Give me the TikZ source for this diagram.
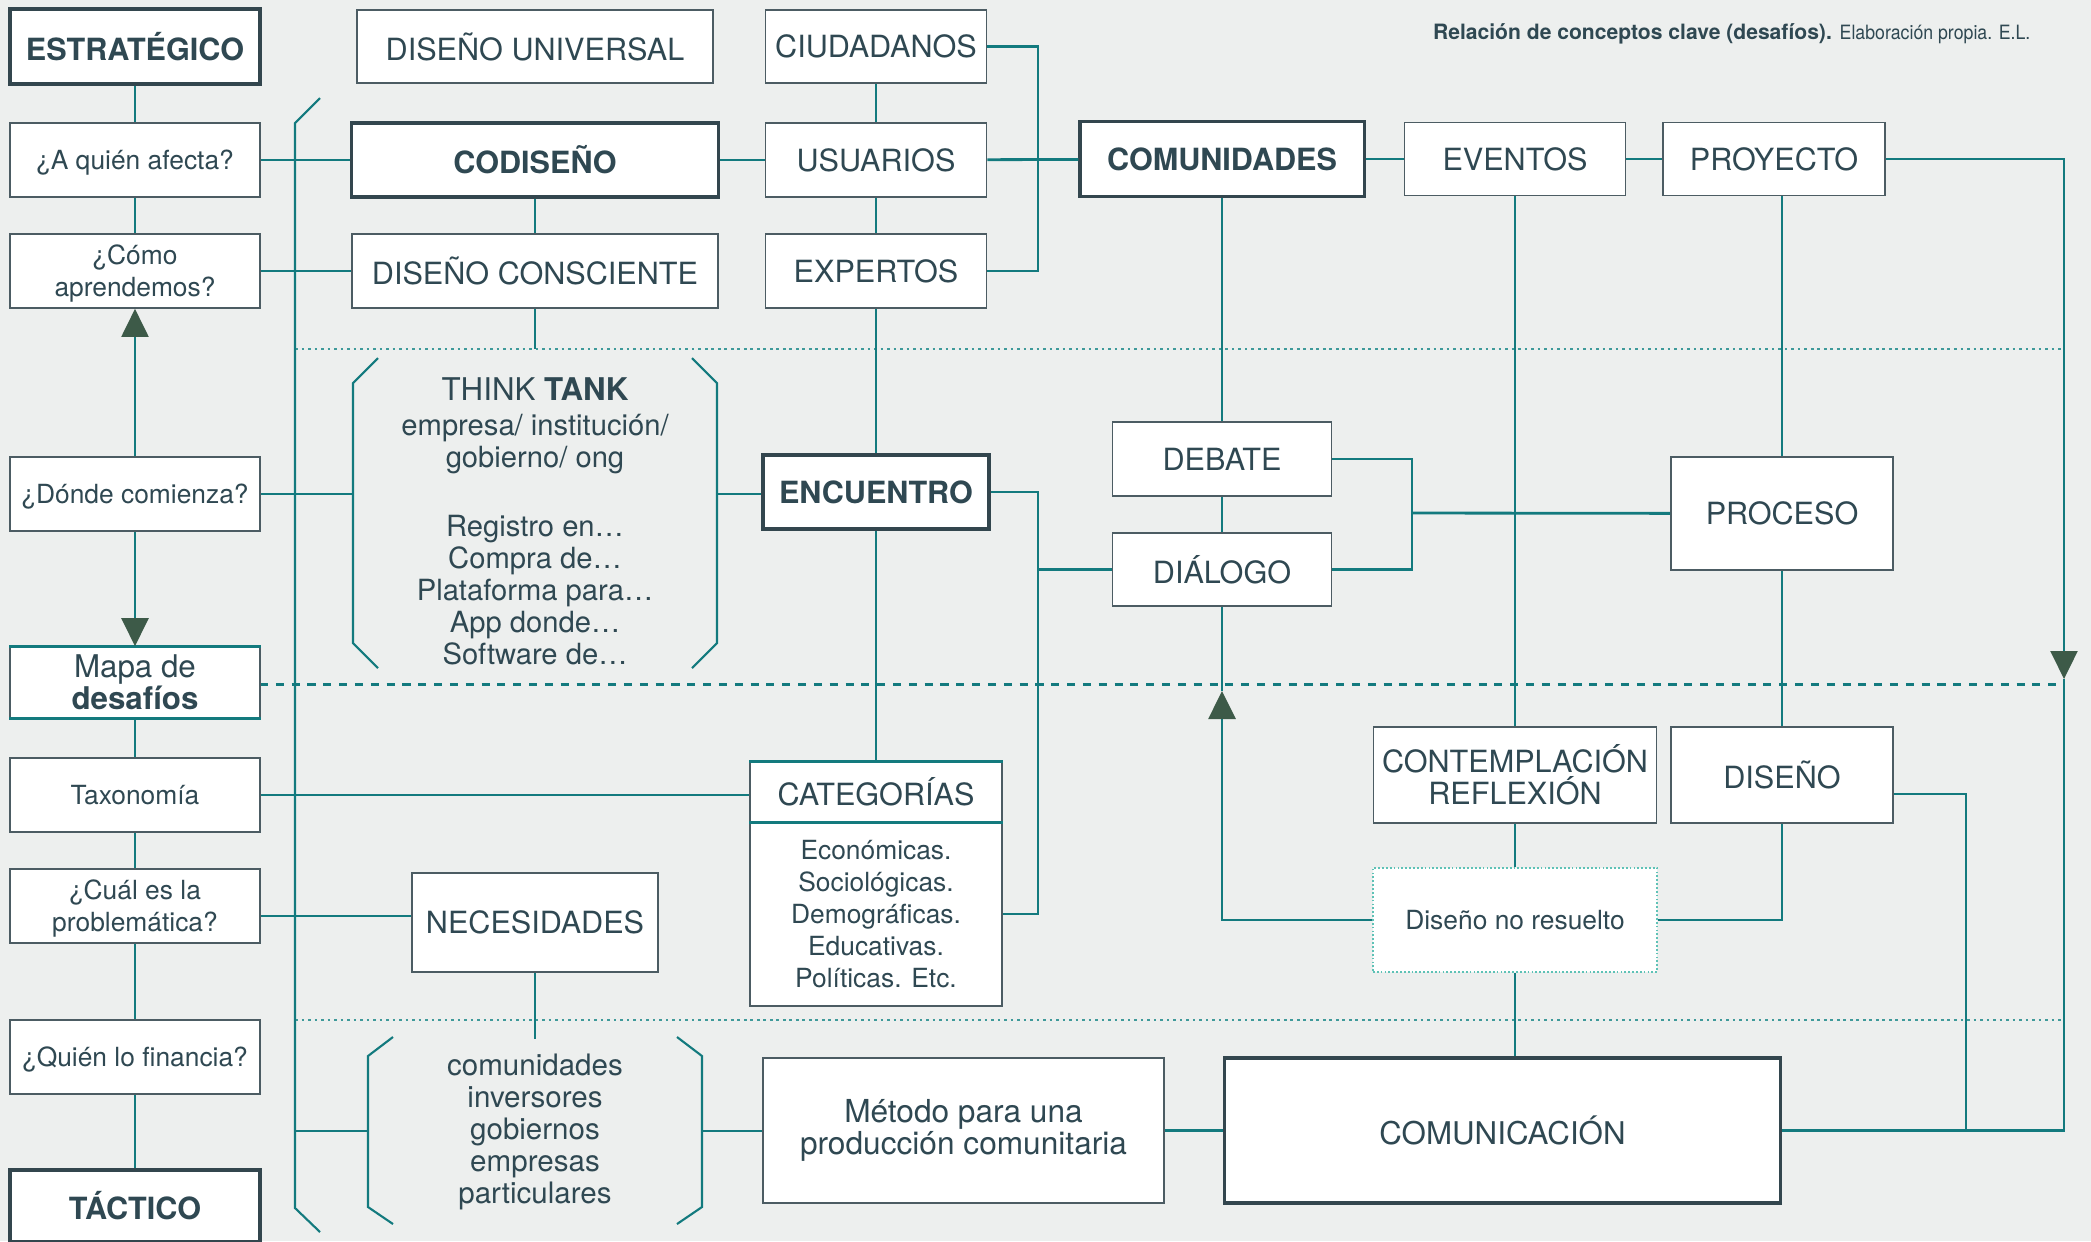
\documentclass[tikz,border=0pt]{standalone}
\usepackage{fontspec}
\setmainfont{TeX Gyre Heros}
\newfontfamily\condfont[FakeStretch=0.9]{TeX Gyre Heros}
\usepackage{xcolor}
\usepackage{tikz}
\usetikzlibrary{arrows.meta,calc}
\definecolor{paper}{HTML}{EDEFEE}
\definecolor{ink}{HTML}{2F4852}
\definecolor{boxline}{HTML}{4C5C63}
\definecolor{boxdark}{HTML}{33464E}
\definecolor{lineteal}{HTML}{137A7E}
\definecolor{dotteal}{HTML}{3F9A9A}
\definecolor{lightteal}{HTML}{5EC2B6}
\definecolor{arrowgreen}{HTML}{3D5A48}
\tikzset{
  blk/.style={draw=boxline,line width=0.45pt,fill=white,align=center,inner sep=0pt,text=ink,font=\fontsize{8.7}{9.1}\selectfont},
  blkb/.style={blk,draw=boxdark,line width=0.9pt,font=\fontsize{8.7}{9.1}\selectfont\bfseries},
  lcol/.style={blk,minimum width=2.5cm,minimum height=0.74cm,font=\fontsize{7.5}{9.1}\selectfont},
  qone/.style={lcol,text height=5.4pt,text depth=0pt},
  txt/.style={text=ink,align=center,inner sep=0pt},
  link/.style={draw=lineteal,line width=0.6pt},
  hlink/.style={draw=lineteal,line width=0.8pt},
  band/.style={draw=lineteal,line width=0.9pt},
  brack/.style={draw=lineteal,line width=0.6pt},
  arr/.style={-{Triangle[length=0.28cm,width=0.27cm,color=arrowgreen]}},
  sepline/.style={draw=dotteal,line width=0.7pt,dash pattern=on 0.75pt off 1.1pt},
  mapline/.style={draw=lineteal,line width=0.85pt,dash pattern=on 2.3pt off 2.2pt},
}
\newcommand{\qstrut}{\rule{0pt}{7.2pt}}
\begin{document}
\begin{tikzpicture}[x=0.01cm,y=-0.01cm]
\fill[paper] (0,0) rectangle (2091,1241);
\clip (0,0) rectangle (2091,1241);

% separators
\draw[sepline] (295,349) -- (2064,349);
\draw[sepline] (295,1020) -- (2064,1020);
\draw[mapline] (260,684) -- (2064,684);

% brackets and left spine
\draw[brack] (320,98) -- (295,123) -- (295,1208) -- (320,1232);
\draw[brack] (378,358) -- (353,383) -- (353,643) -- (378,668);
\draw[brack] (692,358) -- (717,383) -- (717,643) -- (692,668);
\draw[brack] (393,1037) -- (368,1056) -- (368,1207) -- (393,1224);
\draw[brack] (677,1037) -- (702,1056) -- (702,1207) -- (677,1224);
\coordinate (spine) at (295,0);
\coordinate (thL) at (353,494);
\coordinate (thR) at (717,494);
\coordinate (cmL) at (368,1131);
\coordinate (cmR) at (702,1131);
\coordinate (cmT) at (535,1039);
\coordinate (consE) at (535,349);
\coordinate (stk) at (1038,0);
\coordinate (jn) at (1412,513);
\coordinate (rj) at (1966,0);
\coordinate (rArr) at (2064,679);
\coordinate (dArr) at (1222,691);

% caption
\node[txt,anchor=base east] (cap) at (2031,39) {\fontsize{6}{7}\selectfont\bfseries Relación de conceptos clave (desafíos). {\condfont\mdseries\fontsize{5.6}{7}\selectfont Elaboración propia. E.L.}};

% left column
\node[blkb,minimum width=2.5cm,minimum height=0.75cm] (estr) at (135,46.5) {ESTRATÉGICO};
\node[qone] (aquien) at (135,160) {¿A quién afecta?};
\node[lcol] (como) at (135,271) {\qstrut¿Cómo\\aprendemos?};
\node[qone] (donde) at (135,494) {¿Dónde comienza?};
\node[blk,minimum width=2.5cm,minimum height=0.71cm,font=\fontsize{8.9}{9.1}\selectfont] (mapa) at (135,682.5) {Mapa de\\\textbf{desafíos}};
\draw[band] (mapa.north west) -- (mapa.north east);
\draw[band] (mapa.south west) -- (mapa.south east);
\node[lcol] (taxo) at (135,795) {Taxonomía};
\node[lcol] (cual) at (135,906) {\qstrut¿Cuál es la\\problemática?};
\node[qone] (quien) at (135,1057) {¿Quién lo financia?};
\node[blkb,minimum width=2.5cm,minimum height=0.72cm] (tact) at (135,1206) {TÁCTICO};

% middle
\node[blk,minimum width=3.56cm,minimum height=0.73cm] (univ) at (535,46.5) {DISEÑO UNIVERSAL};
\node[blkb,minimum width=3.66cm,minimum height=0.74cm] (codis) at (535,160) {CODISEÑO};
\node[blk,minimum width=3.66cm,minimum height=0.74cm] (consc) at (535,271) {DISEÑO CONSCIENTE};
\node[blk,minimum width=2.21cm,minimum height=0.73cm] (ciud) at (876,46.5) {CIUDADANOS};
\node[blk,minimum width=2.21cm,minimum height=0.74cm] (usua) at (876,160) {USUARIOS};
\node[blk,minimum width=2.21cm,minimum height=0.74cm] (expe) at (876,271) {EXPERTOS};
\node[blkb,minimum width=2.26cm,minimum height=0.74cm] (encu) at (876,492) {ENCUENTRO};
\node[txt,font=\fontsize{8.3}{9.1}\selectfont] (think) at (535,521) {{\fontsize{8.9}{9.1}\selectfont THINK \textbf{TANK}}\\[0.9pt]empresa/ institución/\\gobierno/ ong\\[10.5pt]Registro en…\\Compra de…\\Plataforma para…\\App donde…\\Software de…};
\node[blk,minimum width=2.52cm,minimum height=1.84cm,font=\fontsize{7.5}{9.05}\selectfont] (catlist) at (876,914) {Económicas.\\Sociológicas.\\Demográficas.\\Educativas.\\Políticas. Etc.};
\node[blk,minimum width=2.52cm,minimum height=0.6cm] (cathead) at (876,792) {CATEGORÍAS};
\draw[band] (cathead.north west) -- (cathead.north east);
\draw[band] (cathead.south west) -- (cathead.south east);
\node[blk,minimum width=2.46cm,minimum height=0.99cm] (nece) at (535,922.5) {NECESIDADES};
\node[txt,font=\fontsize{8.4}{9.1}\selectfont] (quienes) at (535,1132) {comunidades\\inversores\\gobiernos\\empresas\\particulares};
\node[blk,minimum width=4.01cm,minimum height=1.45cm,font=\fontsize{9}{9.2}\selectfont] (metodo) at (963.5,1130.5) {Método para una\\producción comunitaria};
\node[blkb,minimum width=5.55cm,minimum height=1.45cm,font=\fontsize{8.9}{9.1}\selectfont] (comunic) at (1502.5,1130.5) {COMUNICACIÓN};

% right
\node[blkb,minimum width=2.84cm,minimum height=0.75cm] (comun) at (1222,159) {COMUNIDADES};
\node[blk,minimum width=2.21cm,minimum height=0.73cm] (even) at (1515,159) {EVENTOS};
\node[blk,minimum width=2.22cm,minimum height=0.73cm] (proy) at (1774,159) {PROYECTO};
\node[blk,minimum width=2.19cm,minimum height=0.74cm] (debate) at (1222,459) {DEBATE};
\node[blk,minimum width=2.19cm,minimum height=0.73cm] (dialogo) at (1222,569.5) {DIÁLOGO};
\node[blk,minimum width=2.22cm,minimum height=1.13cm] (proc) at (1782,513.5) {PROCESO};
\node[blk,minimum width=2.83cm,minimum height=0.96cm] (contem) at (1515,775) {CONTEMPLACIÓN\\REFLEXIÓN};
\node[blk,minimum width=2.22cm,minimum height=0.96cm] (disen) at (1782,775) {DISEÑO};
\node[blk,draw=lightteal,line width=0.6pt,dash pattern=on 0.5pt off 0.6pt,minimum width=2.84cm,minimum height=1.04cm,font=\fontsize{7.5}{9}\selectfont] (noresu) at (1515,920) {Diseño no resuelto};

% left column links
\draw[link] (estr) -- (aquien);
\draw[link] (aquien) -- (como);
\draw[link,arr] (donde) -- (como);
\draw[link,arr] (donde) -- (mapa);
\draw[link] (mapa) -- (taxo);
\draw[link] (taxo) -- (cual);
\draw[link] (cual) -- (quien);
\draw[link] (quien) -- (tact);
\draw[hlink] (aquien) -- (codis);
\draw[hlink] (como) -- (consc);
\draw[hlink] (donde.east) -- (thL);
\draw[hlink] (taxo.east) -- (taxo.east -| cathead.west);
\draw[hlink] ($(cual.east)+(0,10)$) -- ($(cual.east -| nece.west)+(0,10)$);
\draw[hlink] (spine |- cmL) -- (cmL);

% middle links
\draw[link] (codis) -- (consc);
\draw[link] (consc) -- (consE);
\draw[hlink] (codis) -- (usua);
\draw[link] (ciud) -- (usua);
\draw[link] (usua) -- (expe);
\draw[link] (expe) -- (encu);
\draw[link] (encu) -- (cathead);
\draw[hlink] (thR) -- (thR -| encu.west);
\draw[link] (nece) -- (cmT);
\draw[hlink] (cmR) -- (cmR -| metodo.west);
\draw[hlink] (metodo) -- (comunic);
\draw[hlink] (ciud.east) -- (ciud.east -| stk) -- (expe.east -| stk) -- (expe.east);
\draw[hlink] (usua) -- (comun);
\draw[hlink] (encu.east) -- (encu.east -| stk) -- (catlist.east -| stk) -- (catlist.east);
\draw[hlink] (dialogo.west -| stk) -- (dialogo.west);

% right links
\draw[hlink] (comun) -- (even);
\draw[hlink] (even) -- (proy);
\draw[link] (comun) -- (debate);
\draw[link] (debate) -- (dialogo);
\draw[hlink] (debate.east) -- (debate.east -| jn) -- (dialogo.east -| jn) -- (dialogo.east);
\draw[hlink] (jn) -- (proc);
\draw[link] (proc.north |- proy.south) -- (proc.north);
\draw[link] (proc) -- (disen);
\draw[link] (even) -- (contem);
\draw[link] (contem) -- (noresu);
\draw[link] (noresu) -- (noresu |- comunic.north);
\draw[hlink,arr] (noresu.west) -- (noresu.west -| dialogo) -- (dArr);
\draw[link] (dArr) -- (dialogo);
\draw[hlink] (noresu.east) -- (noresu.east -| disen) -- (disen);
\draw[hlink] ($(disen.east)+(0,19)$) -- ($(disen.east -| rj)+(0,19)$) -- (comunic.east -| rj);
\draw[link,arr] (proy.east) -- (proy.east -| rArr) -- (rArr);
\draw[hlink] (rArr) -- (rArr |- comunic.east) -- (comunic.east);
\end{tikzpicture}
\end{document}
